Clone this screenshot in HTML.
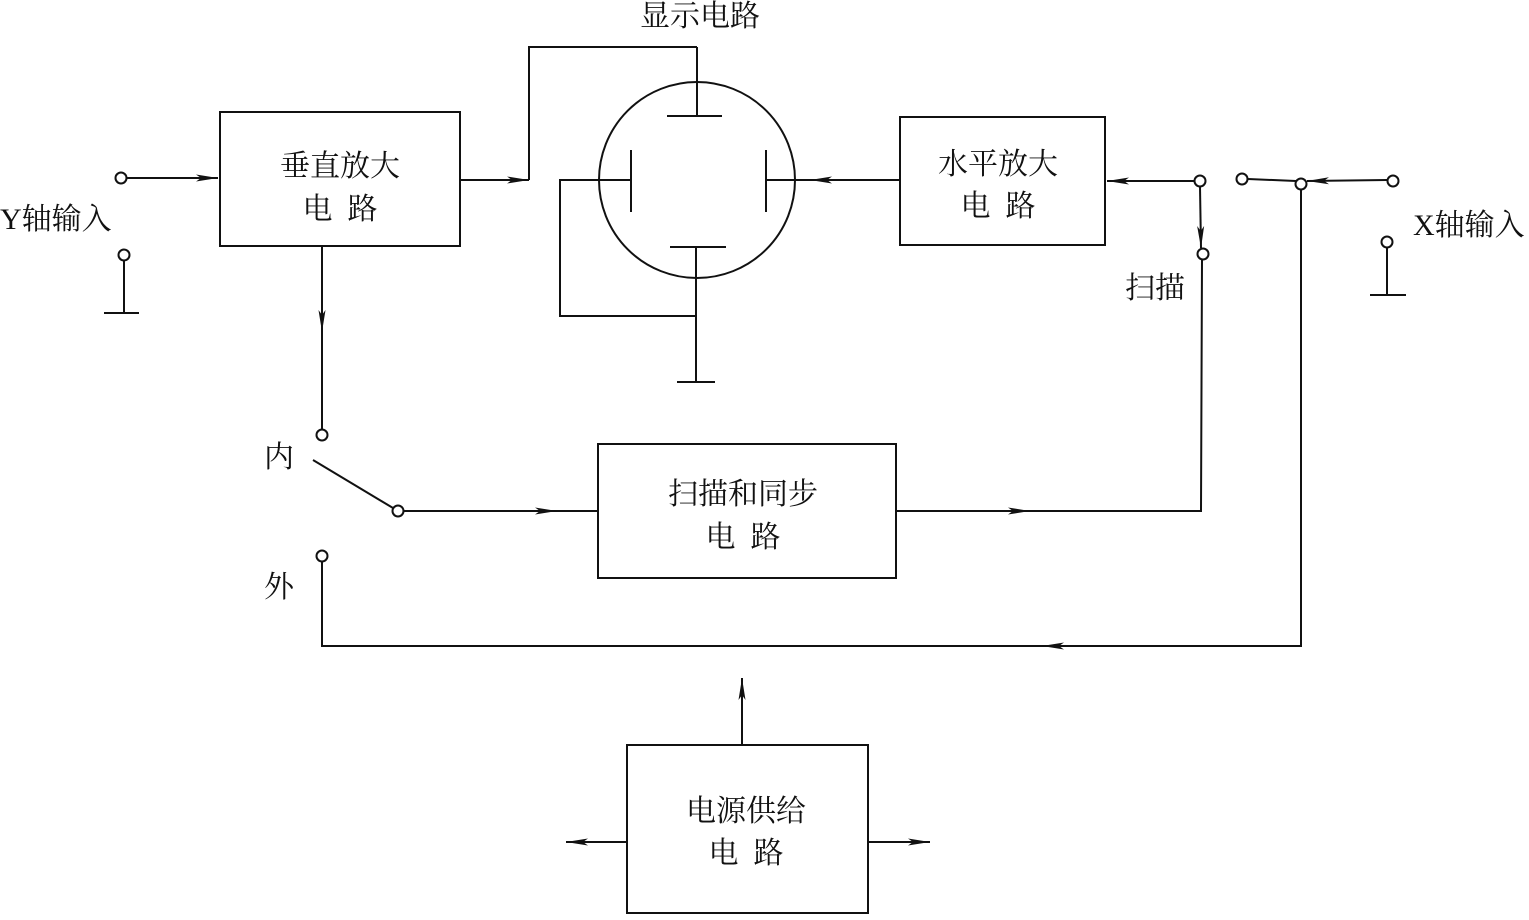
<!DOCTYPE html>
<html><head><meta charset="utf-8"><style>
body{margin:0;background:#fff}
svg text{font-family:"Liberation Serif","Noto Serif CJK SC",serif;font-size:30px;fill:#111}
</style></head><body>
<svg width="1529" height="915" viewBox="0 0 1529 915" xmlns="http://www.w3.org/2000/svg">
<defs>
<marker id="a" markerWidth="24" markerHeight="8" refX="22" refY="4" orient="auto" markerUnits="userSpaceOnUse">
<path d="M0,0.5 L22,4 L0,7.5 L5,4 Z" fill="#111"/></marker>
</defs>
<g stroke="#111" stroke-width="2" fill="none">
<rect x="220" y="112" width="240" height="134"/>
<rect x="900" y="117" width="205" height="128"/>
<rect x="598" y="444" width="298" height="134"/>
<rect x="627" y="745" width="241" height="168"/>
<circle cx="697" cy="180" r="98"/>
<line x1="667" y1="116" x2="722" y2="116"/>
<line x1="697" y1="116" x2="697" y2="47"/>
<polyline points="697,47 529,47 529,180"/>
<line x1="460" y1="180" x2="529" y2="180" marker-end="url(#a)" />
<line x1="631" y1="150" x2="631" y2="212"/>
<polyline points="631,180 560,180 560,316 696,316"/>
<line x1="670" y1="247" x2="726" y2="247"/>
<line x1="696" y1="247" x2="696" y2="382"/>
<line x1="677" y1="382" x2="715" y2="382"/>
<line x1="766" y1="150" x2="766" y2="212"/>
<line x1="900" y1="180" x2="810" y2="180" marker-end="url(#a)"/>
<line x1="810" y1="180" x2="766" y2="180"/>
<line x1="127" y1="178" x2="218" y2="178" marker-end="url(#a)"/>
<line x1="124" y1="261" x2="124" y2="313"/>
<line x1="104" y1="313" x2="139" y2="313"/>
<line x1="322" y1="246" x2="322" y2="332" marker-end="url(#a)"/>
<line x1="322" y1="332" x2="322" y2="429"/>
<line x1="313" y1="460" x2="393" y2="508"/>
<line x1="404" y1="511" x2="557" y2="511" marker-end="url(#a)"/>
<line x1="557" y1="511" x2="598" y2="511"/>
<polyline points="322,562 322,646 1301,646 1301,189"/>
<line x1="1301" y1="646" x2="1042" y2="646" marker-end="url(#a)"/>
<line x1="896" y1="511" x2="1030" y2="511" marker-end="url(#a)"/>
<polyline points="1030,511 1201,511 1202,260"/>
<line x1="1200" y1="187" x2="1201" y2="248" marker-end="url(#a)"/>
<line x1="1194" y1="181" x2="1107" y2="181" marker-end="url(#a)"/>
<line x1="1248" y1="179" x2="1296" y2="181"/>
<line x1="1387" y1="180" x2="1307" y2="181" marker-end="url(#a)"/>
<line x1="1387" y1="248" x2="1387" y2="295"/>
<line x1="1370" y1="295" x2="1406" y2="295"/>
<line x1="742" y1="745" x2="742" y2="678" marker-end="url(#a)"/>
<line x1="627" y1="842" x2="566" y2="842" marker-end="url(#a)"/>
<line x1="868" y1="842" x2="930" y2="842" marker-end="url(#a)"/>
</g>
<g stroke="#111" stroke-width="2" fill="#fff">
<circle cx="121" cy="178" r="5.5"/>
<circle cx="124" cy="255" r="5.5"/>
<circle cx="322" cy="435" r="5.5"/>
<circle cx="398" cy="511" r="5.5"/>
<circle cx="322" cy="556" r="5.5"/>
<circle cx="1200" cy="181" r="5.5"/>
<circle cx="1203" cy="254" r="5.5"/>
<circle cx="1242" cy="179" r="5.5"/>
<circle cx="1301" cy="184" r="5.5"/>
<circle cx="1393" cy="181" r="5.5"/>
<circle cx="1387" cy="242" r="5.5"/>
</g>
<text x="640" y="26">显示电路</text>
<text x="0" y="229">Y轴输入</text>
<text x="1413" y="235">X轴输入</text>
<text x="1125" y="298">扫描</text>
<text x="264" y="467">内</text>
<text x="264" y="597">外</text>
<text x="340" y="176" text-anchor="middle">垂直放大</text>
<text x="340" y="219" text-anchor="middle" xml:space="preserve">电  路</text>
<text x="998" y="174" text-anchor="middle">水平放大</text>
<text x="998" y="216" text-anchor="middle" xml:space="preserve">电  路</text>
<text x="743" y="504" text-anchor="middle">扫描和同步</text>
<text x="743" y="547" text-anchor="middle" xml:space="preserve">电  路</text>
<text x="746" y="821" text-anchor="middle">电源供给</text>
<text x="746" y="863" text-anchor="middle" xml:space="preserve">电  路</text>
</svg>
</body></html>
